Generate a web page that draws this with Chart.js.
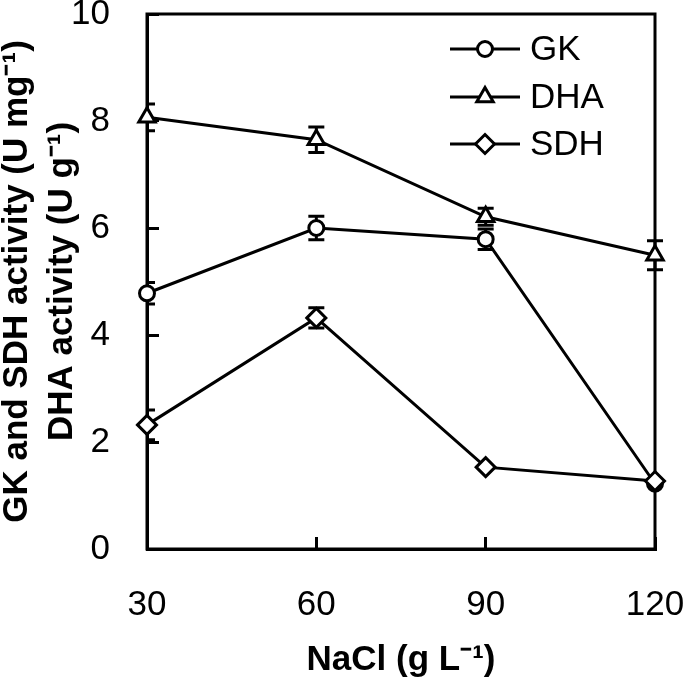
<!DOCTYPE html>
<html>
<head>
<meta charset="utf-8">
<script src="https://cdn.jsdelivr.net/npm/chart.js@4/dist/chart.umd.min.js"></script>
<style>
html,body{margin:0;padding:0;background:#fff;}
#wrap{width:685px;height:685px;}
</style>
</head>
<body>
<div id="wrap"><canvas id="chart" width="685" height="685"></canvas></div>
<script>
// NaCl concentration (g/L)
var nacl = [30, 60, 90, 120];
// enzyme activities
var gk = [4.78, 6.0, 5.79, 1.22];
var gkErr = [0.2, 0.22, 0.19, 0];
var dha = [8.07, 7.65, 6.21, 5.49];
var dhaErr = [0.25, 0.24, 0.16, 0.27];
var sdh = [2.32, 4.32, 1.53, 1.27];
var sdhErr = [0.28, 0.19, 0, 0];
var xTicks = [30, 60, 90, 120];
var yTicks = [0, 2, 4, 6, 8, 10];

var FONT = "'Liberation Sans', Arial, sans-serif";

function pts(vals) {
	return nacl.map(function(x, i) { return {x: x, y: vals[i]}; });
}

function series(label, vals, errs, style, r, order) {
	return {
		label: label,
		data: pts(vals),
		err: errs,
		order: order,
		borderColor: '#000',
		borderWidth: 3,
		pointStyle: style,
		pointRadius: r,
		pointBorderWidth: 3,
		pointBorderColor: '#000',
		pointBackgroundColor: '#fff',
		tension: 0,
		clip: false
	};
}

function drawMarker(ctx, style, x, y, r) {
	ctx.beginPath();
	if (style == 'circle') {
		ctx.arc(x, y, r, 0, Math.PI * 2);
	} else if (style == 'triangle') {
		for (var k = 0; k < 3; k++) {
			var a = k * 2 * Math.PI / 3;
			var px = x + Math.sin(a) * r, py = y - Math.cos(a) * r;
			if (k == 0) ctx.moveTo(px, py); else ctx.lineTo(px, py);
		}
		ctx.closePath();
	} else {
		ctx.moveTo(x, y - r); ctx.lineTo(x + r, y); ctx.lineTo(x, y + r); ctx.lineTo(x - r, y);
		ctx.closePath();
	}
	ctx.fillStyle = '#fff';
	ctx.fill();
	ctx.lineWidth = 3;
	ctx.strokeStyle = '#000';
	ctx.stroke();
}

var errorBars = {
	id: 'errorBars',
	beforeDatasetsDraw: function(chart) {
		var ctx = chart.ctx, xs = chart.scales.x, ys = chart.scales.y, ca = chart.chartArea;
		ctx.save();
		ctx.beginPath();
		ctx.rect(ca.left, 0, chart.width - ca.left, chart.height);
		ctx.clip();
		ctx.strokeStyle = '#000';
		ctx.lineWidth = 3;
		chart.data.datasets.forEach(function(ds) {
			ds.data.forEach(function(p, i) {
				var e = ds.err[i];
				if (!e) return;
				var px = xs.getPixelForValue(p.x);
				var t = ys.getPixelForValue(p.y + e), b = ys.getPixelForValue(p.y - e);
				ctx.beginPath();
				ctx.moveTo(px, t); ctx.lineTo(px, b);
				ctx.moveTo(px - 8, t); ctx.lineTo(px + 8, t);
				ctx.moveTo(px - 8, b); ctx.lineTo(px + 8, b);
				ctx.stroke();
			});
		});
		ctx.restore();
	}
};

var frame = {
	id: 'frame',
	beforeDatasetsDraw: function(chart) {
		var ctx = chart.ctx, ca = chart.chartArea;
		ctx.save();
		ctx.strokeStyle = '#000';
		ctx.lineWidth = 3;
		ctx.strokeRect(ca.left, ca.top, ca.right - ca.left, ca.bottom - ca.top);
		ctx.restore();
	}
};

var legendBox = {
	id: 'legendBox',
	afterDraw: function(chart) {
		var ctx = chart.ctx;
		var rows = [['GK', 'circle', 7.5, 49], ['DHA', 'triangle', 9.5, 97], ['SDH', 'rectRot', 9.5, 144]];
		ctx.save();
		rows.forEach(function(r) {
			ctx.beginPath();
			ctx.moveTo(450, r[3]); ctx.lineTo(520, r[3]);
			ctx.strokeStyle = '#000'; ctx.lineWidth = 3; ctx.stroke();
			drawMarker(ctx, r[1], 485, r[3], r[2]);
			ctx.fillStyle = '#000';
			ctx.font = '35px ' + FONT;
			ctx.textAlign = 'left';
			ctx.textBaseline = 'middle';
			ctx.fillText(r[0], 530, r[3] + 1);
		});
		ctx.restore();
	}
};

new Chart(document.getElementById('chart'), {
	type: 'line',
	data: {
		datasets: [
			series('GK', gk, gkErr, 'circle', 7.5, 3),
			series('DHA', dha, dhaErr, 'triangle', 9.5, 2),
			series('SDH', sdh, sdhErr, 'rectRot', 9.5, 1)
		]
	},
	options: {
		responsive: false,
		animation: false,
		devicePixelRatio: 1,
		layout: {padding: {top: 14, right: 30, left: 0, bottom: 0}},
		plugins: {legend: {display: false}, tooltip: {enabled: false}},
		scales: {
			x: {
				type: 'linear',
				min: 30, max: 120,
				afterBuildTicks: function(s) { s.ticks = xTicks.map(function(v) { return {value: v}; }); },
				afterFit: function(s) { s.height = 136; s.paddingLeft = 0; s.paddingRight = 0; },
				ticks: {color: '#000', padding: 47, maxRotation: 0, font: {family: FONT, size: 35}},
				grid: {drawOnChartArea: false, drawTicks: true, tickLength: -12, color: '#000', lineWidth: 3},
				border: {display: true, color: '#000', width: 3},
				title: {display: true, text: 'NaCl (g L\u207B\u00B9)', color: '#000', padding: {top: 0, bottom: 4},
					font: {family: FONT, size: 35, weight: 'bold'}}
			},
			y: {
				min: 0, max: 10,
				afterBuildTicks: function(s) { s.ticks = yTicks.map(function(v) { return {value: v}; }); },
				afterFit: function(s) { s.width = 147; s.paddingTop = 0; s.paddingBottom = 0; },
				ticks: {color: '#000', padding: 49, font: {family: FONT, size: 35, lineHeight: 0.8}},
				grid: {drawOnChartArea: false, drawTicks: true, tickLength: -12, color: '#000', lineWidth: 3},
				border: {display: true, color: '#000', width: 3},
				title: {display: true, text: ['GK and SDH activity (U mg\u207B\u00B9)', 'DHA activity (U g\u207B\u00B9)'],
					color: '#000', padding: {top: -5, bottom: 0},
					font: {family: FONT, size: 35, weight: 'bold', lineHeight: 1.28}}
			}
		}
	},
	plugins: [errorBars, frame, legendBox]
});
</script>
</body>
</html>
